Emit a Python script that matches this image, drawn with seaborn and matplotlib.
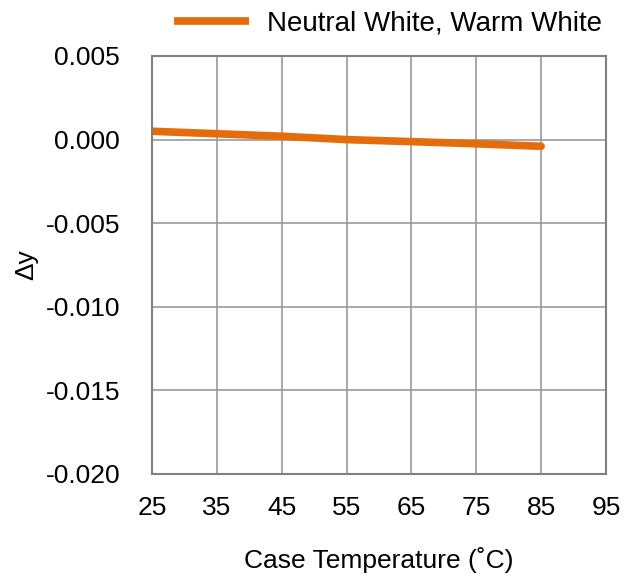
import numpy as np
import pandas as pd
import matplotlib
matplotlib.use('Agg')
import matplotlib.pyplot as plt
import seaborn as sns

# data
temps = [25, 35, 45, 55, 65, 75, 85]
delta_y = [0.00050, 0.00035, 0.00020, 0.00000, -0.00012, -0.00025, -0.00040]
series_name = 'Neutral White, Warm White'

x_ticks = [25, 35, 45, 55, 65, 75, 85, 95]
y_ticks = [0.005, 0.000, -0.005, -0.010, -0.015, -0.020]

df = pd.DataFrame({'temp': temps, 'dy': delta_y, 'series': series_name})

sns.set_style('white')
plt.rcParams['font.family'] = ['Liberation Sans', 'DejaVu Sans']
plt.rcParams['text.color'] = 'black'
plt.rcParams['axes.labelcolor'] = 'black'

fig = plt.figure(figsize=(6.37, 5.76), dpi=100)
ax = fig.add_axes([152 / 637, 1 - 474 / 576, (606 - 152) / 637, (474 - 56) / 576])

sns.lineplot(data=df, x='temp', y='dy', hue='series', palette=['#E46C0A'],
             linewidth=5.5, ax=ax, legend=True)

ax.set_xlim(25, 95)
ax.set_ylim(-0.020, 0.005)
ax.set_xticks(x_ticks)
ax.set_yticks(y_ticks)
ax.set_xticklabels([str(t) for t in x_ticks])
ax.set_yticklabels([f'{v:.3f}' for v in y_ticks])
ax.grid(True, color='#999999', linewidth=1.2)
ax.set_axisbelow(True)
for s in ax.spines.values():
    s.set_color('#808080')
    s.set_linewidth(1.5)
ax.tick_params(axis='both', length=0, labelsize=19, colors='black')
ax.tick_params(axis='y', pad=23)
ax.tick_params(axis='x', pad=16)

ax.set_xlabel('Case Temperature (˚C)', fontsize=19, labelpad=19.5)
ax.set_ylabel('Δy', fontsize=19, labelpad=5)

handles, labels = ax.get_legend_handles_labels()
leg = ax.legend(handles, labels, loc='lower center', bbox_to_anchor=(0.52, 1.014),
                frameon=False, fontsize=20, handlelength=2.7, handletextpad=0.65,
                borderaxespad=0.1)
for h in leg.get_lines():
    h.set_solid_capstyle('butt')

fig.savefig('out.png', dpi=100)
